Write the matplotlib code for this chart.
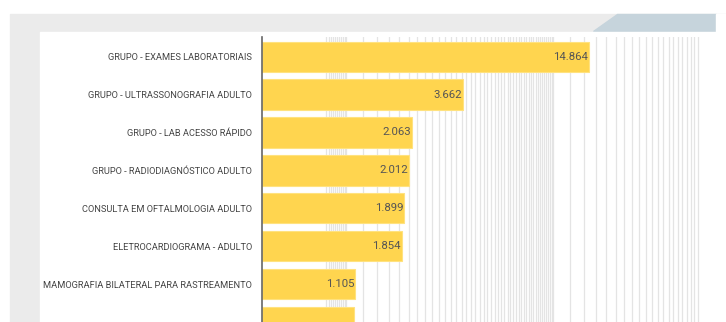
import numpy as np
import matplotlib.pyplot as plt
from matplotlib.patches import Rectangle, Polygon

# Dados do gráfico
categorias = [
    "GRUPO - EXAMES LABORATORIAIS",
    "GRUPO - ULTRASSONOGRAFIA ADULTO",
    "GRUPO - LAB ACESSO RÁPIDO",
    "GRUPO - RADIODIAGNÓSTICO ADULTO",
    "CONSULTA EM OFTALMOLOGIA ADULTO",
    "ELETROCARDIOGRAMA - ADULTO",
    "MAMOGRAFIA BILATERAL PARA RASTREAMENTO",
    "",
]
valores = [14864, 3662, 2063, 2012, 1899, 1854, 1105, 1088]
rotulos = ["14.864", "3.662", "2.063", "2.012", "1.899", "1.854", "1.105", ""]

W, H = 726, 322
fig = plt.figure(figsize=(W / 100, H / 100), dpi=100)
fig.patch.set_facecolor("white")

# fundo do painel (cinza) e cartão branco
fundo = [
    Rectangle((10 / W, 0), 1, (H - 14) / H, color="#ebebeb"),
    Polygon([(617 / W, (H - 14) / H), (716 / W, (H - 14) / H),
             (716 / W, (H - 31) / H), (593 / W, (H - 31) / H)], closed=True, color="#c6d4dc"),
    Rectangle((40 / W, 0), (716 - 40) / W, (H - 32) / H, color="white"),
    Rectangle((716 / W, 0), 1, (H - 14) / H, color="white"),
]
for p in fundo:
    p.set_transform(fig.transFigure)
    p.set_zorder(-5)
    fig.patches.append(p)

ax = fig.add_axes([262 / W, 0, (716 - 262) / W, (H - 37) / H])
ax.set_facecolor("none")
ax.set_zorder(1)

xmin, xmax = 391, 61000
ax.set_xscale("log")
ax.set_xlim(xmin, xmax)

pos = np.arange(len(valores))
ax.set_ylim(6.883, -0.519)

# linhas de grade
grade = list(range(800, 1000, 20)) + list(range(1000, 10000, 200)) + list(range(10000, 52000, 2000))
for g in grade:
    ax.axvline(g, color="#e4e4e4", lw=0.9, zorder=1)

ax.barh(pos, np.array(valores) - xmin, left=xmin, height=0.8,
        color="#ffd54f", edgecolor="#ffe27f", linewidth=0.8, zorder=2)

for p, v, r in zip(pos, valores, rotulos):
    ax.text(v / 1.01, p, r, ha="right", va="center", fontsize=8.2,
            family="Roboto", color="#555555", zorder=3)

ax.set_yticks(pos)
ax.set_yticklabels(categorias, fontsize=6.7, family="Roboto", color="#444444")
ax.tick_params(axis="y", length=0, pad=7)
ax.set_xticks([])
ax.minorticks_off()
ax.tick_params(axis="x", which="both", length=0, labelbottom=False)

for s in ["top", "right", "bottom"]:
    ax.spines[s].set_visible(False)
ax.spines["left"].set_color("#666666")
ax.spines["left"].set_linewidth(1.2)
ax.spines["left"].set_zorder(4)

plt.savefig("out.png", dpi=100)
